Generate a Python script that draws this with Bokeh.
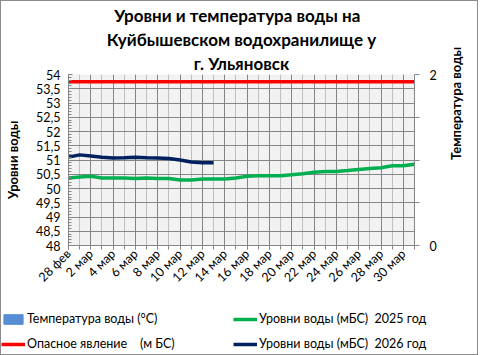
import math
from bokeh.plotting import figure
from bokeh.models import (ColumnDataSource, Range1d, LinearAxis, FixedTicker, Legend,
                          LegendItem, Title, CustomJSTickFormatter)
from bokeh.embed import file_html
from bokeh.resources import INLINE

dates = ["28 фев", "1 мар", "2 мар", "3 мар", "4 мар", "5 мар", "6 мар", "7 мар",
         "8 мар", "9 мар", "10 мар", "11 мар", "12 мар", "13 мар", "14 мар", "15 мар",
         "16 мар", "17 мар", "18 мар", "19 мар", "20 мар", "21 мар", "22 мар", "23 мар",
         "24 мар", "25 мар", "26 мар", "27 мар", "28 мар", "29 мар", "30 мар", "31 мар"]

level_2025 = [50.37, 50.40, 50.43, 50.37, 50.37, 50.37, 50.35, 50.37, 50.35, 50.35,
              50.30, 50.30, 50.33, 50.33, 50.33, 50.37, 50.43, 50.45, 50.45, 50.45,
              50.48, 50.52, 50.57, 50.60, 50.60, 50.63, 50.67, 50.70, 50.73, 50.80,
              50.80, 50.85]

level_2026 = [51.10, 51.18, 51.14, 51.10, 51.07, 51.08, 51.10, 51.08, 51.07, 51.05,
              51.00, 50.93, 50.90, 50.90]

danger_level = [53.75, 53.75, 53.75, 53.75, 53.75, 53.75, 53.75, 53.75, 53.75, 53.75,
                53.75, 53.75, 53.75, 53.75, 53.75, 53.75, 53.75, 53.75, 53.75, 53.75,
                53.75, 53.75, 53.75, 53.75, 53.75, 53.75, 53.75, 53.75, 53.75, 53.75,
                53.75, 53.75]

water_temp = []  # no temperature values shown

title_lines = ["Уровни  и температура  воды на", "Куйбышевском водохранилище у", "г. Ульяновск"]
legend_labels = ["Температура воды (°C)", "Опасное явление    (м БС)",
                 "Уровни воды (мБС)  2025 год", "Уровни воды (мБС)  2026 год"]
level_ticks = [48, 48.5, 49, 49.5, 50, 50.5, 51, 51.5, 52, 52.5, 53, 53.5, 54]
temp_ticks = [0, 0.5, 1, 1.5, 2]

FONT = "Lato"
C_TEMP, C_DANGER, C_2025, C_2026 = "#558ED5", "#ff0000", "#00b050", "#002060"
BORDER = "1px solid #8c8c8c"

idx = list(range(len(dates)))


def sources():
    return (ColumnDataSource(dict(x=idx[:len(water_temp)], y=water_temp)),
            ColumnDataSource(dict(x=idx, y=danger_level)),
            ColumnDataSource(dict(x=idx, y=level_2025)),
            ColumnDataSource(dict(x=idx[:len(level_2026)], y=level_2026)))


srct, srcd, src25, src26 = sources()

p = figure(width=478, height=300, output_backend="svg", toolbar_location=None,
           x_range=Range1d(0, len(dates) - 1), y_range=Range1d(48, 54),
           min_border_left=66, min_border_right=65, min_border_top=73, min_border_bottom=56,
           background_fill_color="#f2f2f2", border_fill_color="white",
           outline_line_color=None, title=None)
p.extra_y_ranges = {"temp": Range1d(0, 2)}

for line in reversed(title_lines):
    p.add_layout(Title(text=line, align="center", text_font=FONT, text_font_size="17px",
                       text_font_style="bold", text_color="black", standoff=1,
                       offset=0), "above")

# x axis
xt = FixedTicker(ticks=idx[::2], minor_ticks=idx)
p.xaxis.ticker = xt
p.xaxis.major_label_overrides = {i: dates[i] for i in idx[::2]}
p.xaxis.major_label_orientation = math.pi / 4
p.xaxis.major_tick_in = 0
p.xaxis.major_tick_out = 4
p.xaxis.minor_tick_in = 0
p.xaxis.minor_tick_out = 4
p.xaxis.axis_line_color = "#868686"
p.xaxis.major_tick_line_color = "#868686"
p.xaxis.minor_tick_line_color = "#868686"
p.xaxis.major_label_text_font = FONT
p.xaxis.major_label_text_font_size = "12.5px"
p.xaxis.major_label_text_color = "black"
p.xaxis.major_label_standoff = 2

p.xgrid.ticker = xt
p.xgrid.grid_line_color = "#868686"
p.xgrid.minor_grid_line_color = "#bfbfbf"

# left axis
yt = FixedTicker(ticks=level_ticks, minor_ticks=[round(48 + 0.1 * i, 1) for i in range(61)])
p.yaxis.ticker = yt
p.yaxis.formatter = CustomJSTickFormatter(code="return tick.toString().replace('.', ',')")
p.yaxis.major_tick_in = 4
p.yaxis.major_tick_out = 0
p.yaxis.minor_tick_in = 3
p.yaxis.minor_tick_out = 0
p.yaxis.axis_line_color = "#868686"
p.yaxis.major_tick_line_color = "#868686"
p.yaxis.minor_tick_line_color = "#868686"
p.yaxis.major_label_text_font = FONT
p.yaxis.major_label_text_font_size = "12.5px"
p.yaxis.major_label_text_color = "black"
p.yaxis.major_label_standoff = 8
p.yaxis.axis_label = "Уровни воды"
p.yaxis.axis_label_text_font = FONT
p.yaxis.axis_label_text_font_size = "13px"
p.yaxis.axis_label_text_font_style = "bold"
p.yaxis.axis_label_text_color = "black"
p.yaxis.axis_label_standoff = 12

p.ygrid.ticker = yt
p.ygrid.grid_line_color = "#868686"

# right axis
ra = LinearAxis(y_range_name="temp", ticker=FixedTicker(ticks=temp_ticks, minor_ticks=[]),
                formatter=CustomJSTickFormatter(code="return (tick == 0 || tick == 2) ? tick.toString() : ''"),
                axis_label="Температура воды")
ra.major_tick_in = 0
ra.major_tick_out = 5
ra.axis_line_color = "#868686"
ra.major_tick_line_color = "#868686"
ra.major_label_text_font = FONT
ra.major_label_text_font_size = "12.5px"
ra.major_label_text_color = "black"
ra.major_label_standoff = 10
ra.axis_label_text_font = FONT
ra.axis_label_text_font_size = "13px"
ra.axis_label_text_font_style = "bold"
ra.axis_label_text_color = "black"
ra.axis_label_standoff = 16
ra.axis_label_orientation = math.pi / 2
p.add_layout(ra, "right")

# glyphs
p.vbar(x="x", top="y", width=0.6, source=srct, y_range_name="temp",
       fill_color=C_TEMP, line_color=C_TEMP)
p.line("x", "y", source=srcd, line_color=C_DANGER, line_width=3.5)
p.line("x", "y", source=src25, line_color=C_2025, line_width=3.5)
p.line("x", "y", source=src26, line_color=C_2026, line_width=3.5)

p.styles = {"border-left": BORDER, "border-right": BORDER, "border-top": BORDER,
            "box-sizing": "border-box"}

# legend panel: a second figure whose view shows no data, only the legend keys
lt, ld, l25, l26 = sources()
lf = figure(width=478, height=55, output_backend="svg", toolbar_location=None,
            x_axis_type=None, y_axis_type=None,
            x_range=Range1d(-20, -10), y_range=Range1d(-20, -10),
            min_border_left=0, min_border_right=0, min_border_top=0, min_border_bottom=0,
            background_fill_color="white", border_fill_color="white",
            outline_line_color=None, title=None)
lf.grid.visible = False
kt = lf.vbar(x="x", top="y", width=0.6, source=l25, fill_color=C_TEMP, line_color=C_TEMP)
kd = lf.line("x", "y", source=ld, line_color=C_DANGER, line_width=3.5)
k25 = lf.line("x", "y", source=l25, line_color=C_2025, line_width=3.5)
k26 = lf.line("x", "y", source=l26, line_color=C_2026, line_width=3.5)

legend = Legend(items=[
    LegendItem(label=legend_labels[0], renderers=[kt]),
    LegendItem(label=legend_labels[1], renderers=[kd]),
    LegendItem(label=legend_labels[2], renderers=[k25]),
    LegendItem(label=legend_labels[3], renderers=[k26]),
], orientation="vertical", nrows=2, location=(0, 4),
    background_fill_alpha=0, border_line_color=None, padding=0, margin=0,
    spacing=10, glyph_width=24, glyph_height=12, label_standoff=2, label_width=196,
    label_text_font=FONT, label_text_font_size="12.5px", label_text_color="black")
lf.add_layout(legend, "center")
lf.styles = {"border-left": BORDER, "border-right": BORDER, "border-bottom": BORDER,
             "box-sizing": "border-box"}

open("out.html", "w").write(file_html([p, lf], INLINE))
